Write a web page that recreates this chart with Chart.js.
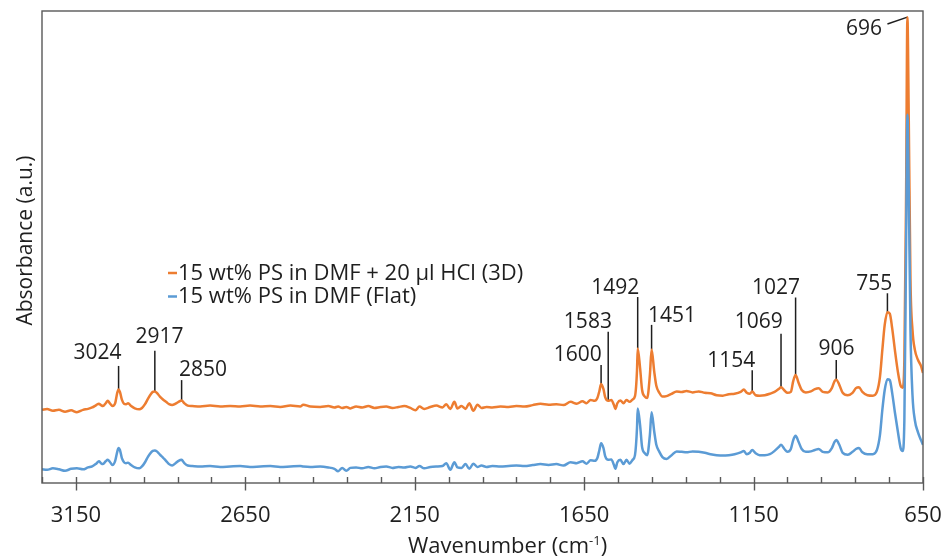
<!DOCTYPE html>
<html>
<head>
<meta charset="utf-8">
<script src="https://cdn.jsdelivr.net/npm/chart.js@4.4.0/dist/chart.umd.min.js"></script>
<style>
  html, body { margin: 0; padding: 0; background: #fff; }
</style>
</head>
<body>
<canvas id="spectrum" width="945" height="556"></canvas>
<script>
// values, wavenumber in cm-1, absorbance in arbitrary units
let wavenumbers = [
  3250, 3235, 3218, 3200, 3182, 3164, 3147, 3129, 3114, 3102, 3090, 3082, 3076, 3070, 3062, 3056,
  3049, 3042, 3034, 3028, 3024, 3020, 3014, 3008, 3002, 2996, 2987, 2976, 2963, 2955, 2946, 2937,
  2928, 2923, 2917, 2911, 2902, 2893, 2884, 2875, 2866, 2856, 2847, 2838, 2830, 2820, 2807, 2783,
  2754, 2724, 2695, 2665, 2636, 2606, 2576, 2547, 2517, 2488, 2479, 2458, 2429, 2405, 2387, 2376,
  2364, 2352, 2340, 2323, 2305, 2287, 2269, 2251, 2234, 2216, 2198, 2181, 2163, 2148, 2136, 2122,
  2104, 2086, 2068, 2057, 2045, 2033, 2024, 2012, 2000, 1989, 1977, 1965, 1953, 1938, 1921, 1897,
  1873, 1850, 1826, 1802, 1779, 1755, 1732, 1711, 1690, 1672, 1655, 1643, 1631, 1619, 1611, 1605,
  1600, 1593, 1588, 1579, 1570, 1562, 1558, 1552, 1543, 1534, 1525, 1516, 1507, 1500, 1494, 1492,
  1485, 1479, 1471, 1464, 1456, 1451, 1443, 1437, 1428, 1419, 1407, 1392, 1377, 1362, 1348, 1330,
  1312, 1294, 1277, 1259, 1241, 1223, 1206, 1188, 1179, 1170, 1161, 1154, 1144, 1132, 1117, 1102,
  1088, 1076, 1069, 1059, 1050, 1040, 1033, 1026, 1017, 1008, 996, 981, 969, 958, 946, 931,
  919, 911, 906, 897, 887, 872, 858, 848, 839, 829, 814, 798, 786, 777, 770, 763,
  755, 748, 741, 733, 724, 716, 710, 705, 700, 696, 692, 687, 681, 674, 665, 656,
  650
];
let absorb3D = [
  .155, .157, .153, .155, .151, .154, .150, .155, .157, .160, .165, .168, .165, .163, .169, .174,
  .168, .163, .169, .191, .198, .193, .176, .168, .167, .169, .163, .158, .156, .159, .167, .179,
  .189, .193, .194, .191, .183, .177, .172, .167, .165, .168, .172, .175, .169, .164, .163, .162,
  .164, .162, .163, .162, .164, .162, .163, .161, .164, .162, .166, .162, .161, .163, .160, .162,
  .159, .161, .158, .162, .160, .163, .159, .161, .162, .159, .161, .163, .159, .154, .162, .157,
  .161, .164, .160, .167, .157, .172, .158, .163, .157, .169, .153, .166, .159, .161, .160, .162,
  .161, .163, .162, .165, .168, .166, .167, .165, .172, .168, .173, .169, .176, .174, .180, .195,
  .210, .199, .182, .174, .176, .165, .157, .169, .175, .169, .176, .172, .177, .184, .239, .285,
  .244, .197, .183, .180, .229, .283, .235, .206, .191, .183, .184, .189, .194, .193, .195, .192,
  .194, .191, .190, .186, .185, .188, .189, .193, .198, .191, .189, .194, .186, .185, .186, .189,
  .193, .199, .203, .196, .191, .193, .216, .229, .212, .197, .192, .194, .199, .201, .193, .192,
  .201, .216, .219, .208, .191, .186, .191, .201, .203, .193, .186, .185, .193, .225, .282, .335,
  .362, .359, .328, .282, .235, .206, .202, .261, .600, .987, .769, .430, .324, .282, .261, .248,
  .233
];
let absorbFlat = [
  .029, .028, .031, .029, .026, .030, .031, .029, .033, .035, .041, .046, .042, .040, .046, .049,
  .044, .038, .047, .066, .074, .070, .052, .044, .042, .043, .038, .033, .031, .035, .044, .056,
  .065, .068, .069, .067, .060, .054, .047, .040, .037, .042, .047, .049, .042, .037, .036, .035,
  .036, .034, .035, .036, .034, .035, .036, .034, .035, .036, .035, .034, .035, .033, .030, .025,
  .032, .026, .032, .033, .031, .034, .031, .034, .035, .032, .034, .033, .035, .032, .036, .031,
  .034, .035, .036, .042, .028, .044, .033, .032, .040, .030, .041, .034, .037, .034, .036, .035,
  .036, .037, .036, .038, .040, .038, .040, .037, .044, .042, .046, .041, .048, .047, .053, .070,
  .084, .074, .057, .049, .050, .038, .030, .044, .049, .040, .049, .041, .049, .059, .117, .158,
  .123, .076, .063, .059, .102, .150, .108, .081, .066, .055, .051, .059, .067, .066, .065, .067,
  .066, .064, .061, .059, .058, .059, .061, .065, .068, .061, .064, .070, .063, .059, .059, .061,
  .068, .076, .081, .072, .066, .072, .091, .100, .087, .072, .066, .067, .070, .072, .066, .065,
  .074, .087, .091, .081, .064, .060, .066, .072, .074, .065, .061, .061, .070, .102, .155, .197,
  .220, .218, .191, .150, .108, .074, .068, .133, .494, .780, .621, .324, .186, .133, .108, .091,
  .081
];
let seriesNames = ["15 wt% PS in DMF + 20 \u00b5l HCl (3D)", "15 wt% PS in DMF (Flat)"];
let seriesColors = ["#ED7D31", "#5B9BD5"];
let tickLabels = [3150, 2650, 2150, 1650, 1150, 650];
let minorStep = 100;
let xRange = [650, 3250];
let yRange = [0, 1];

// peak annotations: label text and the wavenumber of the peak it marks
let peakTexts = ["3024", "2917", "2850", "1600", "1583", "1492", "1451", "1154", "1069", "1027", "906", "755", "696"];
let peakAt = [3024, 2917, 2838, 1600, 1579, 1492, 1451, 1154, 1069, 1026, 906, 755, 696];
// where each label sits and where its leader line starts, in axis units
let labelPos = [[3086, .278], [2903, .312], [2775, .243], [1669, .275], [1639, .345], [1558, .417],
  [1391, .357], [1216, .262], [1135, .344], [1084, .416], [905, .2875], [794, .424], [824, .9655]];
let leaderStart = [[3024, .248], [2917, .280], [2838, .218], [1600, .250], [1579, .3205], [1492, .394],
  [1451, .335], [1154, .239], [1069, .316], [1026, .393], [906, .2606], [755, .402], [755, .9725]];

const FONT = "'Open Sans', 'Noto Sans', sans-serif";
const TEXT_COLOR = "#1f1f1f";
const AXIS_COLOR = "#595959";

function valueAt(wn, arr){
  for(let i = 0; i < wavenumbers.length - 1; i++){
    let a = wavenumbers[i], b = wavenumbers[i+1];
    if(wn <= a && wn >= b){
      let t = (a - wn) / (a - b);
      return arr[i] + (arr[i+1] - arr[i]) * t;
    }
  }
  return arr[arr.length - 1];
}

function toPoints(arr){
  let pts = [];
  for(let i = 0; i < wavenumbers.length; i++){
    pts.push({x: wavenumbers[i], y: arr[i]});
  }
  return pts;
}

// leader lines go under the spectra
const leaderPlugin = {
  id: 'leaders',
  beforeDatasetsDraw(chart){
    const {ctx, scales: {x, y}} = chart;
    ctx.save();
    ctx.strokeStyle = "#1e1e1e";
    ctx.lineWidth = 1.5;
    for(let i = 0; i < peakTexts.length; i++){
      let end = valueAt(peakAt[i], absorb3D);
      ctx.beginPath();
      ctx.moveTo(x.getPixelForValue(leaderStart[i][0]), y.getPixelForValue(leaderStart[i][1]));
      ctx.lineTo(x.getPixelForValue(peakAt[i]), y.getPixelForValue(end));
      ctx.stroke();
    }
    ctx.restore();
  }
};

const decorPlugin = {
  id: 'decor',
  afterDatasetsDraw(chart){
    const {ctx, chartArea: a, scales: {x, y}} = chart;
    ctx.save();
    // plot frame
    ctx.strokeStyle = AXIS_COLOR;
    ctx.lineWidth = 1.4;
    ctx.strokeRect(a.left, a.top, a.right - a.left, a.bottom - a.top);
    // tick marks: majors cross the axis, minors point inwards
    ctx.beginPath();
    for(let v = xRange[0]; v <= xRange[1]; v += minorStep){
      let px = Math.round(x.getPixelForValue(v)) + 0.5;
      let major = tickLabels.indexOf(v) >= 0;
      ctx.moveTo(px, a.bottom - 6);
      ctx.lineTo(px, major ? a.bottom + 7.5 : a.bottom);
    }
    ctx.stroke();

    // peak labels
    ctx.fillStyle = TEXT_COLOR;
    ctx.font = "21px " + FONT;
    ctx.textAlign = "center";
    ctx.textBaseline = "alphabetic";
    for(let i = 0; i < peakTexts.length; i++){
      let px = x.getPixelForValue(labelPos[i][0]);
      let py = y.getPixelForValue(labelPos[i][1]);
      ctx.fillText(peakTexts[i], px, py + 7.5);
    }

    // legend inside the plot
    ctx.font = "22px " + FONT;
    ctx.textAlign = "left";
    let lx = a.left + 126, ly = a.top + 261;
    chart.data.datasets.forEach((ds, i) => {
      let cy = ly + i * 23.5;
      ctx.strokeStyle = ds.borderColor;
      ctx.lineWidth = 2.5;
      ctx.beginPath();
      ctx.moveTo(lx, cy + 1);
      ctx.lineTo(lx + 9, cy + 1);
      ctx.stroke();
      ctx.fillText(ds.label, lx + 10, cy + 7.8);
    });

    // axis titles
    ctx.font = "21px " + FONT;
    ctx.save();
    ctx.translate(31.5, (a.top + a.bottom) / 2 - 6.5);
    ctx.rotate(-Math.PI / 2);
    ctx.textAlign = "center";
    ctx.fillText("Absorbance (a.u.)", 0, 0);
    ctx.restore();

    let main = "Wavenumber (cm", sup = "-1", close = ")";
    ctx.font = "22px " + FONT;
    let w1 = ctx.measureText(main).width, w3 = ctx.measureText(close).width;
    ctx.font = "13px " + FONT;
    let w2 = ctx.measureText(sup).width;
    let tx = (a.left + a.right) / 2 + 25 - (w1 + w2 + w3) / 2;
    let base = 553;
    ctx.font = "22px " + FONT;
    ctx.fillText(main, tx, base);
    ctx.font = "13px " + FONT;
    ctx.fillText(sup, tx + w1, base - 8);
    ctx.font = "22px " + FONT;
    ctx.fillText(close, tx + w1 + w2, base);
    ctx.restore();
  }
};

let ctx = document.getElementById("spectrum").getContext("2d");
let chart = new Chart(ctx, {
  type: 'line',
  data: {
    datasets: [{
      label: seriesNames[0],
      data: toPoints(absorb3D),
      borderColor: seriesColors[0],
      borderWidth: 2.5,
      pointRadius: 0,
      cubicInterpolationMode: 'monotone',
      order: 1
    }, {
      label: seriesNames[1],
      data: toPoints(absorbFlat),
      borderColor: seriesColors[1],
      borderWidth: 2.5,
      pointRadius: 0,
      cubicInterpolationMode: 'monotone',
      order: 0
    }]
  },
  options: {
    responsive: false,
    animation: false,
    layout: { padding: { left: 42, top: 11, right: 22, bottom: 0 } },
    plugins: {
      legend: { display: false },
      tooltip: { enabled: false }
    },
    scales: {
      x: {
        type: 'linear',
        reverse: true,
        min: xRange[0],
        max: xRange[1],
        afterBuildTicks: s => { s.ticks = tickLabels.map(v => ({value: v})); },
        afterFit: s => { s.height = 73; s.paddingLeft = 0; s.paddingRight = 0; },
        grid: { display: false, drawTicks: false },
        border: { display: false },
        ticks: {
          font: { family: FONT, size: 22 },
          color: TEXT_COLOR,
          padding: 20,
          maxRotation: 0,
          autoSkip: false,
          callback: v => String(v)
        }
      },
      y: {
        display: false,
        min: yRange[0],
        max: yRange[1]
      }
    }
  },
  plugins: [leaderPlugin, decorPlugin]
});
</script>
</body>
</html>
